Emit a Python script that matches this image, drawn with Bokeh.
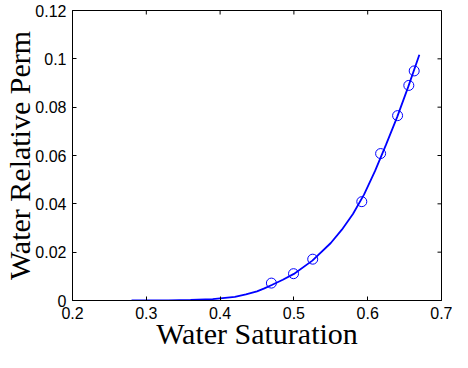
from bokeh.plotting import figure
from bokeh.models import Range1d, FixedTicker
from bokeh.embed import file_html
from bokeh.resources import INLINE

# Observed data (circles)
sw_obs = [0.4695, 0.4995, 0.5255, 0.5920, 0.6175, 0.6405, 0.6557, 0.6630]
krw_obs = [0.0072, 0.0111, 0.0171, 0.0409, 0.0608, 0.0765, 0.0890, 0.0950]

# Fitted curve
sw_fit = [0.28, 0.30, 0.33, 0.36, 0.39, 0.42, 0.435, 0.45, 0.46, 0.47, 0.485,
          0.50, 0.525, 0.55, 0.565, 0.58, 0.595, 0.61, 0.625, 0.64, 0.655, 0.67]
krw_fit = [0.0, 0.00001, 0.00006, 0.0002, 0.0006, 0.0015, 0.0025, 0.0038, 0.0050, 0.0064, 0.0086,
           0.0110, 0.0165, 0.0238, 0.0293, 0.0358, 0.0438, 0.0536, 0.0646, 0.0760, 0.0885, 0.1017]

x_ticks = [0.2, 0.3, 0.4, 0.5, 0.6, 0.7]
x_labels = ["0.2", "0.3", "0.4", "0.5", "0.6", "0.7"]
y_ticks = [0, 0.02, 0.04, 0.06, 0.08, 0.1, 0.12]
y_labels = ["0", "0.02", "0.04", "0.06", "0.08", "0.1", "0.12"]

x_title = "Water Saturation"
y_title = "Water Relative Perm"

X0, X1 = 0.2, 0.7
Y0, Y1 = 0.0, 0.12
W, H = 452, 352
BL, BR, BT, BB = 72, 11, 10, 48
TICK_PX = 4

p = figure(width=W, height=H, x_range=Range1d(X0, X1), y_range=Range1d(Y0, Y1),
           output_backend="svg", toolbar_location=None,
           min_border_left=BL, min_border_right=BR, min_border_top=BT, min_border_bottom=BB,
           background_fill_color="white", border_fill_color="white")
p.outline_line_color = "black"
p.outline_line_width = 1
p.xgrid.visible = False
p.ygrid.visible = False

p.line(sw_fit, krw_fit, line_color="#0000ff", line_width=1.8)
p.scatter(sw_obs, krw_obs, marker="circle", size=10, fill_color=None,
          line_color="#0000ff", line_width=1)

TICK_FONT = "Liberation Sans"
LABEL_FONT = "Liberation Serif"

def style_axis(ax, ticks, labels):
    ax.ticker = FixedTicker(ticks=ticks)
    ax.major_label_overrides = {t: l for t, l in zip(ticks, labels)}
    ax.major_tick_in = TICK_PX
    ax.major_tick_out = 0
    ax.minor_tick_line_color = None
    ax.axis_line_color = "black"
    ax.major_tick_line_color = "black"
    ax.major_label_text_font = TICK_FONT
    ax.major_label_text_color = "black"
    ax.major_label_text_font_size = "16px"
    ax.major_label_standoff = 6
    ax.axis_label_text_font = LABEL_FONT
    ax.axis_label_text_font_size = "30px"
    ax.axis_label_text_font_style = "normal"
    ax.axis_label_text_color = "black"

xa = p.xaxis[0]
ya = p.yaxis[0]
style_axis(xa, x_ticks, x_labels)
style_axis(ya, y_ticks, y_labels)
xa.axis_label = x_title
ya.axis_label = y_title
xa.axis_label_standoff = -5
ya.axis_label_standoff = -4

# Box ticks on top and right edges (MATLAB style), length from the frame size
frame_w = W - BL - BR
frame_h = H - BT - 52
dy = TICK_PX * (Y1 - Y0) / frame_h
dx = TICK_PX * (X1 - X0) / frame_w
p.segment(x0=x_ticks, y0=[Y1] * len(x_ticks), x1=x_ticks, y1=[Y1 - dy] * len(x_ticks),
          line_color="black", line_width=1)
p.segment(x0=[X1] * len(y_ticks), y0=y_ticks, x1=[X1 - dx] * len(y_ticks), y1=y_ticks,
          line_color="black", line_width=1)

open("out.html", "w").write(file_html(p, INLINE))
